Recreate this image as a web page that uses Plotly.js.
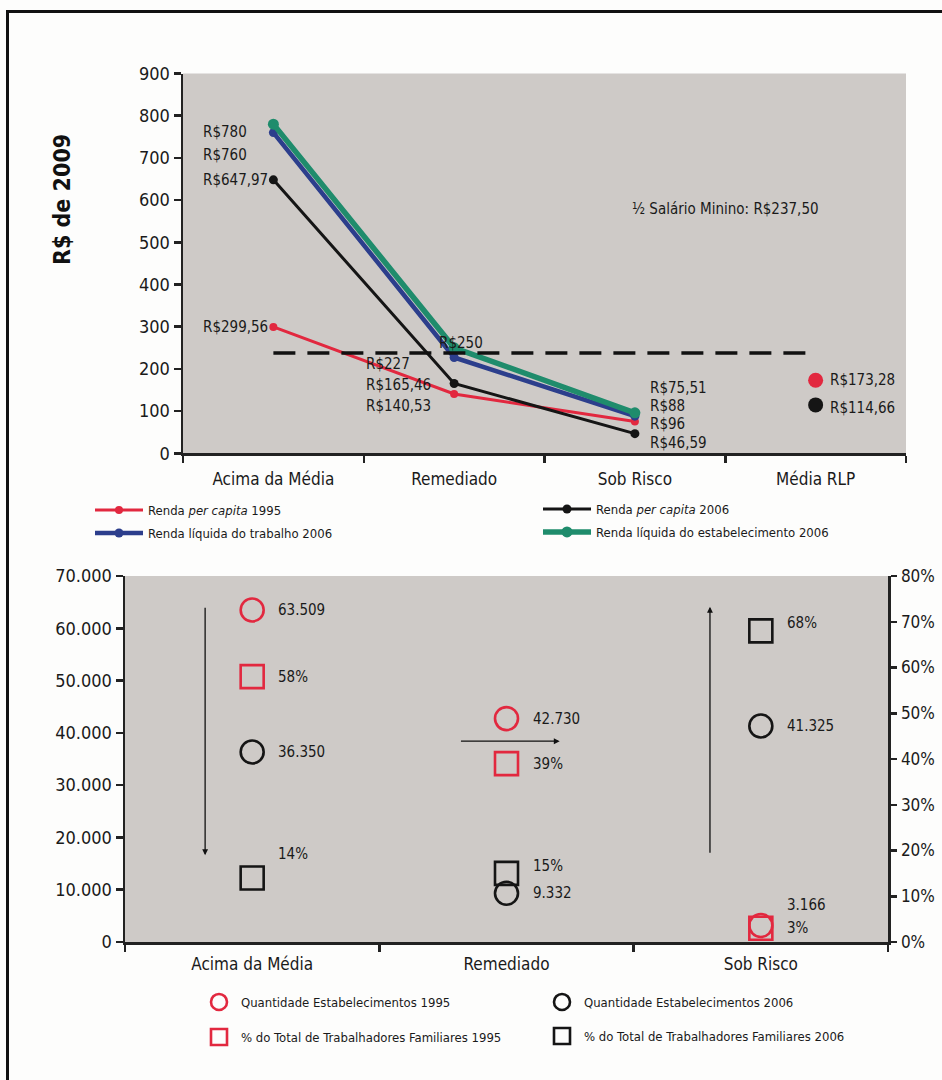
<!DOCTYPE html>
<html>
<head>
<meta charset="utf-8">
<script src="https://cdn.plot.ly/plotly-3.0.1.min.js"></script>
<style>
  html, body { margin: 0; padding: 0; background: #fdfdfc; overflow: hidden; }
  #wrap { position: relative; width: 942px; height: 1080px; }
  #chart { position: absolute; left: 0; top: 0; width: 942px; height: 1080px; }
  #frame { position: absolute; left: 6px; top: 10px; width: 2000px; height: 2000px;
           border-left: 3px solid #111; border-top: 3px solid #111; pointer-events: none; }
</style>
</head>
<body>
<div id="wrap"><div id="chart"></div><div id="frame"></div></div>
<script>
// ---- Income by group (R$ de 2009) ----
const incomeCategories = ['Acima da Média', 'Remediado', 'Sob Risco', 'Média RLP'];
const lineCategories = ['Acima da Média', 'Remediado', 'Sob Risco'];
const rendaPerCapita1995 = [299.56, 140.53, 75.51];
const rendaPerCapita2006 = [647.97, 165.46, 46.59];
const rendaLiquidaTrabalho2006 = [760, 227, 88];
const rendaLiquidaEstabelecimento2006 = [780, 250, 96];
const mediaRlpCategory = ['Média RLP'];
const mediaRlp1995 = [173.28];
const mediaRlp2006 = [114.66];
const meioSalarioMinimo = 237.5;

// ---- Establishments and family workers ----
const groupCategories = ['Acima da Média', 'Remediado', 'Sob Risco'];
const estabelecimentos1995 = [63509, 42730, 3166];
const estabelecimentos2006 = [36350, 9332, 41325];
const pctFamiliares1995 = [58, 39, 3];
const pctFamiliares2006 = [14, 15, 68];

const F = "'Liberation Sans Narrow', 'Arial Narrow', 'DejaVu Sans Condensed', sans-serif";
const INK = '#1a1a1a';
const RED = '#e2283f';
const BLUE = '#2c3e8c';
const GREEN = '#1f8c6c';
const BLACK = '#151515';
const W = 942, H = 1080;

const fmtBRL = v => 'R$' + (Number.isInteger(v) ? String(v) : v.toFixed(2).replace('.', ','));
const fmtThousands = v => String(v).replace(/\B(?=(\d{3})+(?!\d))/g, '.');
const px = (x) => x / W;
const py = (y) => 1 - y / H;

function lineTrace(name, y, color, width, msize, legend) {
  return {
    type: 'scatter', mode: 'lines+markers', name: name,
    x: lineCategories, y: y, xaxis: 'x', yaxis: 'y',
    line: { color: color, width: width },
    marker: { color: color, size: msize },
    legend: legend, hoverinfo: 'skip'
  };
}

function pointTrace(name, x, y, symbol, color, yaxis, legend) {
  return {
    type: 'scatter', mode: 'markers', name: name,
    x: x, y: y, xaxis: 'x2', yaxis: yaxis,
    marker: { symbol: symbol, size: 23, color: color, line: { color: color, width: 2.6 } },
    legend: legend, hoverinfo: 'skip'
  };
}

const traces = [
  lineTrace('Renda <i>per capita</i> 1995', rendaPerCapita1995, RED, 3, 8, 'legend'),
  lineTrace('Renda líquida do trabalho 2006', rendaLiquidaTrabalho2006, BLUE, 4.5, 9, 'legend2'),
  lineTrace('Renda <i>per capita</i> 2006', rendaPerCapita2006, BLACK, 3, 9, 'legend3'),
  lineTrace('Renda líquida do estabelecimento 2006', rendaLiquidaEstabelecimento2006, GREEN, 5.5, 11, 'legend4'),
  { type: 'scatter', mode: 'markers', x: mediaRlpCategory, y: mediaRlp1995, xaxis: 'x', yaxis: 'y',
    marker: { color: RED, size: 15 }, showlegend: false, hoverinfo: 'skip' },
  { type: 'scatter', mode: 'markers', x: mediaRlpCategory, y: mediaRlp2006, xaxis: 'x', yaxis: 'y',
    marker: { color: BLACK, size: 15 }, showlegend: false, hoverinfo: 'skip' },
  pointTrace('Quantidade Estabelecimentos 1995', groupCategories, estabelecimentos1995, 'circle-open', RED, 'y2', 'legend5'),
  pointTrace('% do Total de Trabalhadores Familiares 1995', groupCategories, pctFamiliares1995, 'square-open', RED, 'y3', 'legend6'),
  pointTrace('Quantidade Estabelecimentos 2006', groupCategories, estabelecimentos2006, 'circle-open', BLACK, 'y2', 'legend7'),
  pointTrace('% do Total de Trabalhadores Familiares 2006', groupCategories, pctFamiliares2006, 'square-open', BLACK, 'y3', 'legend8')
];

// value labels for the income chart: [category index, value, xshift, yshift]
const incomeLabels = [
  [0, rendaLiquidaEstabelecimento2006[0], -72, -8],
  [0, rendaLiquidaTrabalho2006[0], -72, -22],
  [0, rendaPerCapita2006[0], -72, 0],
  [0, rendaPerCapita1995[0], -72, 0],
  [1, rendaLiquidaEstabelecimento2006[1], -17, 5],
  [1, rendaLiquidaTrabalho2006[1], -90, -6],
  [1, rendaPerCapita2006[1], -90, -2],
  [1, rendaPerCapita1995[1], -90, -12],
  [2, rendaPerCapita1995[2], 13, 33],
  [2, rendaLiquidaTrabalho2006[2], 13, 10],
  [2, rendaLiquidaEstabelecimento2006[2], 13, -11],
  [2, rendaPerCapita2006[2], 13, -9],
  [3, mediaRlp1995[0], 12, 0],
  [3, mediaRlp2006[0], 12, -3]
];

const annotations = incomeLabels.map(([i, v, dx, dy]) => ({
  xref: 'x', yref: 'y', x: i, y: v, text: fmtBRL(v), showarrow: false,
  xanchor: 'left', yanchor: 'middle', xshift: dx, yshift: dy,
  font: { family: F, size: 15, color: INK }
}));

annotations.push({
  xref: 'x', yref: 'y', x: 2.5, y: 580, showarrow: false,
  text: '½ Salário Minino: ' + fmtBRL(meioSalarioMinimo),
  xanchor: 'center', yanchor: 'middle', font: { family: F, size: 15, color: INK }
});

annotations.push({
  xref: 'paper', yref: 'paper', x: px(62), y: py(200), showarrow: false,
  text: '<b>R$ de 2009</b>', textangle: -90, xanchor: 'center', yanchor: 'middle',
  font: { family: F, size: 23, color: '#111' }
});

// value labels for the establishments chart: [category index, value, axis, text, yshift]
const groupLabels = [];
estabelecimentos1995.forEach((v, i) => groupLabels.push([i, v, 'y2', fmtThousands(v), i === 2 ? 20 : 0]));
estabelecimentos2006.forEach((v, i) => groupLabels.push([i, v, 'y2', fmtThousands(v), 0]));
pctFamiliares1995.forEach((v, i) => groupLabels.push([i, v, 'y3', v + '%', 0]));
pctFamiliares2006.forEach((v, i) => groupLabels.push([i, v, 'y3', v + '%', [24, 7, 8][i]]));

groupLabels.forEach(([i, v, ax, t, dy]) => annotations.push({
  xref: 'x2', yref: ax, x: i, y: v, text: t, showarrow: false,
  xanchor: 'left', yanchor: 'middle', xshift: 24, yshift: dy,
  font: { family: F, size: 15, color: INK }
}));

// direction-of-change arrows
const arrows = [
  { x: -0.185, y: 16600, ax: -0.185, ay: 64200 },
  { x: 1.209, y: 38400, ax: 0.815, ay: 38400 },
  { x: 1.80, y: 64100, ax: 1.80, ay: 16800 }
];
arrows.forEach(a => annotations.push({
  xref: 'x2', yref: 'y2', axref: 'x2', ayref: 'y2',
  x: a.x, y: a.y, ax: a.ax, ay: a.ay, text: '', showarrow: true,
  arrowhead: 2, arrowsize: 0.9, arrowwidth: 1.3, arrowcolor: '#111'
}));

function legendAt(x, y, size, itemwidth) {
  return {
    x: px(x), y: py(y), xanchor: 'left', yanchor: 'middle',
    bgcolor: 'rgba(0,0,0,0)', borderwidth: 0, itemwidth: itemwidth,
    font: { family: F, size: size, color: INK }
  };
}

const axisLine = { showline: true, linecolor: '#222', linewidth: 2.5, ticks: 'outside',
  tickcolor: '#222', tickwidth: 2.5, ticklen: 7, showgrid: false, zeroline: false, fixedrange: true };

const layout = {
  width: W, height: H,
  margin: { l: 0, r: 0, t: 0, b: 0, pad: 0 },
  paper_bgcolor: '#fdfdfc', plot_bgcolor: '#cecac7',
  separators: ',.',
  font: { family: F, color: INK },
  showlegend: true,
  xaxis: Object.assign({}, axisLine, {
    domain: [px(183), px(906)], anchor: 'y', type: 'category',
    categoryorder: 'array', categoryarray: incomeCategories, range: [-0.5, 3.5],
    tickson: 'boundaries', ticklabelstandoff: 9, tickfont: { family: F, size: 17, color: INK }
  }),
  yaxis: Object.assign({}, axisLine, {
    domain: [py(453.3), py(73.5)], anchor: 'x', range: [0, 900], dtick: 100,
    tickfont: { family: F, size: 18, color: INK }
  }),
  xaxis2: Object.assign({}, axisLine, {
    domain: [px(125), px(888)], anchor: 'y2', type: 'category',
    categoryorder: 'array', categoryarray: groupCategories, range: [-0.5, 2.5],
    tickson: 'boundaries', ticklabelstandoff: 5, tickfont: { family: F, size: 17, color: INK }
  }),
  yaxis2: Object.assign({}, axisLine, {
    domain: [py(942), py(576)], anchor: 'x2', range: [0, 70000], dtick: 10000,
    tickformat: ',d', tickfont: { family: F, size: 18, color: INK }
  }),
  yaxis3: Object.assign({}, axisLine, {
    overlaying: 'y2', side: 'right', anchor: 'x2', range: [0, 80], dtick: 10,
    ticklen: 6, ticklabelstandoff: 1,
    ticksuffix: '%', tickfont: { family: F, size: 17, color: INK }
  }),
  legend: legendAt(90, 510, 13, 48),
  legend2: legendAt(90, 533, 13, 48),
  legend3: legendAt(538, 509, 13, 48),
  legend4: legendAt(538, 532, 13, 48),
  legend5: legendAt(197, 1002, 13, 34),
  legend6: legendAt(197, 1037, 13, 34),
  legend7: legendAt(540, 1002, 13, 34),
  legend8: legendAt(540, 1036, 13, 34),
  shapes: [{
    type: 'line', xref: 'x', yref: 'y', x0: 0, x1: 3, y0: meioSalarioMinimo, y1: meioSalarioMinimo,
    line: { color: '#111', width: 3.5, dash: '22px,12px' }
  }],
  annotations: annotations
};

Plotly.newPlot('chart', traces, layout, { displayModeBar: false, staticPlot: true });
</script>
</body>
</html>
